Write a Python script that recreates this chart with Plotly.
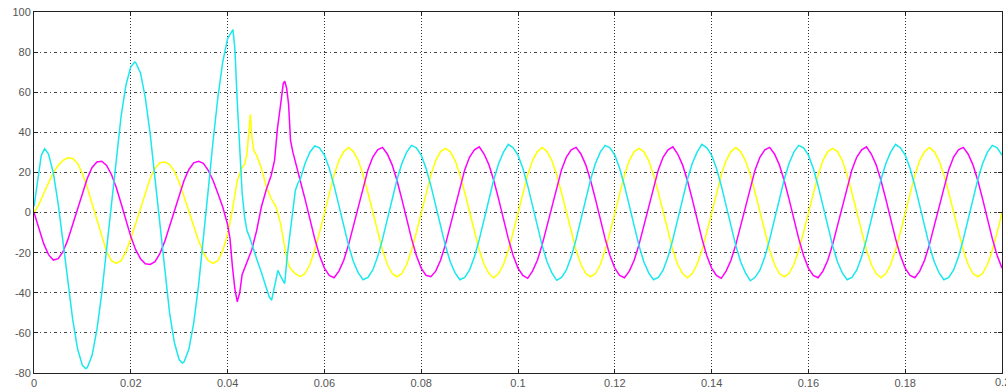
import plotly.graph_objects as go

# ---------------- data (time in ms, current in A) ----------------
# start-up transient
t_yellow_tr = [0, 1, 2, 3, 4, 5, 6, 7, 8, 9, 10, 11, 12, 13, 14, 15, 16, 17, 18, 19,
               20, 21, 22, 23, 24, 25, 26, 27, 28, 29, 30, 31, 32, 33, 34, 35, 36, 37, 38, 39,
               40, 41, 42, 43, 43.5, 44, 44.4, 44.7, 45, 45.4, 46, 47, 48, 49, 50, 51, 52, 52.5, 53, 54]
yellow_tr = [0, 4, 9.5, 15, 20, 23.5, 26, 27.3, 27, 24.5, 19.5, 12.5, 4.5, -4, -12.5, -19.5, -24, -25.4, -24, -19.5,
             -13, -5.5, 2.5, 10, 17, 22, 24.8, 25.2, 24, 20.5, 15, 8, 0.5, -7, -14, -20, -24, -25.4, -24, -19,
             -11, 1.5, 16, 22.5, 24, 29, 40, 49, 38, 31, 28.5, 22, 12.8, 7, 3, -6, -20, -25.4, -28, -30.5]

t_magenta_tr = [0, 1, 2, 3, 4, 5, 6, 7, 8, 9, 10, 11, 12, 13, 14, 15, 16, 17, 18, 19,
                20, 21, 22, 23, 24, 25, 26, 27, 28, 29, 30, 31, 32, 33, 34, 35, 36, 37, 38, 39,
                40, 40.5, 41, 41.5, 42, 42.5, 43, 44, 45, 46, 47, 48, 49, 49.7, 50.3, 50.8, 51.5, 51.8,
                52.2, 52.6, 53, 53.5, 54]
magenta_tr = [0, -8, -15.5, -21, -23.7, -23, -19.5, -13.5, -6, 2, 10, 17, 22.5, 25.2, 25.6, 23.5, 19, 12.5, 4.5, -4,
              -12, -18.5, -23, -25.5, -25.9, -24.5, -20.5, -14.5, -7, 1, 9, 16, 21.5, 24.8, 25.6, 24.5, 21, 16, 9.5, 2.8,
              -6, -13, -27, -38, -44.5, -40, -31, -25, -18.5, -9, 3, 11.5, 18.5, 26, 42, 51, 64.3, 65.5,
              62, 54, 36, 30, 25]

t_cyan_tr = [0, 0.5, 1, 1.5, 2.2, 3, 4, 5, 6, 7, 8, 9, 10, 10.65, 11, 12, 13, 14, 15, 16, 17, 18, 19,
             20, 20.8, 21, 22, 23, 24, 25, 26, 27, 28, 29, 30, 30.65, 31, 32, 33, 34, 35, 36, 37, 38, 39,
             40, 41.1, 41.5, 42, 42.5, 43, 43.5, 44, 44.5, 45, 46, 47, 48, 48.6, 49.1, 49.6, 50.1, 50.4,
             51, 51.8, 52.3, 53, 53.5, 54, 54.5]
cyan_tr = [3, 12, 22, 28.5, 31.9, 29.2, 19.7, 4.3, -14.7, -34.8, -53.4, -67.9, -76.2, -77.8, -77.4, -71.2, -58.4, -40.3, -18.4, 5.2, 28, 48.1, 63.6,
           72.7, 75.1, 74.8, 69.6, 57.3, 39.2, 17.1, -6.5, -29.7, -49.8, -64.8, -73.4, -75, -74.5, -68.2, -55.1, -36.3, -13.5, 11.3, 35.7, 57.6, 75.2,
           86.7, 91.2, 82, 55, 30, 10, -2, -9, -12, -16, -23, -30, -38, -42, -43.7, -38, -31, -28.8,
           -32, -35.4, -22, -8, 3, 11, 14.5]

# steady state, 55 ms .. 200 ms, one sample per ms
t_steady = list(range(55, 201))
yellow_steady = [-32, -30.4, -25.9, -18.8, -9.9,
                 0, 9.9, 18.8, 25.9, 30.4, 32.5, 30.4, 25.9, 18.8, 9.9, 0, -9.9, -18.8, -25.9, -30.4, -32, -30.4, -25.9, -18.8, -9.9,
                 0, 9.9, 18.8, 25.9, 30.4, 32, 30.4, 25.9, 18.8, 9.9, 0, -9.9, -18.8, -25.9, -30.4, -32.5, -30.4, -25.9, -18.8, -9.9,
                 0, 9.9, 18.8, 25.9, 30.4, 32.5, 30.4, 25.9, 18.8, 9.9, 0, -9.9, -18.8, -25.9, -30.4, -32, -30.4, -25.9, -18.8, -9.9,
                 0, 9.9, 18.8, 25.9, 30.4, 32, 30.4, 25.9, 18.8, 9.9, 0, -9.9, -18.8, -25.9, -30.4, -32.5, -30.4, -25.9, -18.8, -9.9,
                 0, 9.9, 18.8, 25.9, 30.4, 32.5, 30.4, 25.9, 18.8, 9.9, 0, -9.9, -18.8, -25.9, -30.4, -32, -30.4, -25.9, -18.8, -9.9,
                 0, 9.9, 18.8, 25.9, 30.4, 32, 30.4, 25.9, 18.8, 9.9, 0, -9.9, -18.8, -25.9, -30.4, -32.5, -30.4, -25.9, -18.8, -9.9,
                 0, 9.9, 18.8, 25.9, 30.4, 32.5, 30.4, 25.9, 18.8, 9.9, 0, -9.9, -18.8, -25.9, -30.4, -32, -30.4, -25.9, -18.8, -9.9,
                 0]
magenta_steady = [16, 6.7, -3.3, -13, -21.4,
                  -27.7, -31.3, -32.5, -29.2, -23.8, -16, -6.7, 3.3, 13, 21.4, 27.7, 31.3, 32.5, 29.2, 23.8, 16, 6.7, -3.3, -13, -21.4,
                  -27.7, -31.3, -32, -29.2, -23.8, -16, -6.7, 3.3, 13, 21.4, 27.7, 31.3, 32.8, 29.2, 23.8, 16, 6.7, -3.3, -13, -21.4,
                  -27.7, -31.3, -32.8, -29.2, -23.8, -16, -6.7, 3.3, 13, 21.4, 27.7, 31.3, 32.5, 29.2, 23.8, 16, 6.7, -3.3, -13, -21.4,
                  -27.7, -31.3, -32.5, -29.2, -23.8, -16, -6.7, 3.3, 13, 21.4, 27.7, 31.3, 32.8, 29.2, 23.8, 16, 6.7, -3.3, -13, -21.4,
                  -27.7, -31.3, -32.8, -29.2, -23.8, -16, -6.7, 3.3, 13, 21.4, 27.7, 31.3, 32.5, 29.2, 23.8, 16, 6.7, -3.3, -13, -21.4,
                  -27.7, -31.3, -32.5, -29.2, -23.8, -16, -6.7, 3.3, 13, 21.4, 27.7, 31.3, 32.8, 29.2, 23.8, 16, 6.7, -3.3, -13, -21.4,
                  -27.7, -31.3, -32.5, -29.2, -23.8, -16, -6.7, 3.3, 13, 21.4, 27.7, 31.3, 32.5, 29.2, 23.8, 16, 6.7, -3.3, -13, -21.4,
                  -27.7]
cyan_steady = [16.5, 24.5, 30.1, 33.2, 32.3,
               28.6, 22.1, 13.4, 3.4, -6.9, -16.5, -24.5, -30.1, -33.5, -32.3, -28.6, -22.1, -13.4, -3.4, 6.9, 16.5, 24.5, 30.1, 33.5, 32.3,
               28.6, 22.1, 13.4, 3.4, -6.9, -16.5, -24.5, -30.1, -33.5, -32.3, -28.6, -22.1, -13.4, -3.4, 6.9, 16.5, 24.5, 30.1, 34, 32.3,
               28.6, 22.1, 13.4, 3.4, -6.9, -16.5, -24.5, -30.1, -33.8, -32.3, -28.6, -22.1, -13.4, -3.4, 6.9, 16.5, 24.5, 30.1, 33.5, 32.3,
               28.6, 22.1, 13.4, 3.4, -6.9, -16.5, -24.5, -30.1, -33.5, -32.3, -28.6, -22.1, -13.4, -3.4, 6.9, 16.5, 24.5, 30.1, 34, 32.3,
               28.6, 22.1, 13.4, 3.4, -6.9, -16.5, -24.5, -30.1, -34, -32.3, -28.6, -22.1, -13.4, -3.4, 6.9, 16.5, 24.5, 30.1, 33.5, 32.3,
               28.6, 22.1, 13.4, 3.4, -6.9, -16.5, -24.5, -30.1, -33.5, -32.3, -28.6, -22.1, -13.4, -3.4, 6.9, 16.5, 24.5, 30.1, 34, 32.3,
               28.6, 22.1, 13.4, 3.4, -6.9, -16.5, -24.5, -30.1, -33.5, -32.3, -28.6, -22.1, -13.4, -3.4, 6.9, 16.5, 24.5, 30.1, 33.5, 32.3,
               28.6]

x_tick_vals = [0, 0.02, 0.04, 0.06, 0.08, 0.1, 0.12, 0.14, 0.16, 0.18]
x_tick_text = ["0", "0.02", "0.04", "0.06", "0.08", "0.1", "0.12", "0.14", "0.16", "0.18"]
x_last_tick = "0.2"
y_tick_vals = [-80, -60, -40, -20, 0, 20, 40, 60, 80, 100]
y_tick_text = ["-80", "-60", "-40", "-20", "0", "20", "40", "60", "80", "100"]

# ---------------- figure ----------------
def seconds(ms_list):
    return [v / 1000.0 for v in ms_list]

series = [
    ("Yellow", t_yellow_tr + t_steady, yellow_tr + yellow_steady, "#ffff00"),
    ("Magenta", t_magenta_tr + t_steady, magenta_tr + magenta_steady, "#ff00ff"),
    ("Cyan", t_cyan_tr + t_steady, cyan_tr + cyan_steady, "#1ae8ee"),
]

fig = go.Figure()
for name, t, y, col in series:
    fig.add_trace(go.Scatter(x=seconds(t), y=y, mode="lines", name=name,
                             line=dict(color=col, width=1.5), showlegend=False,
                             hoverinfo="skip"))

axis_font = dict(family="Liberation Sans, Arial, sans-serif", size=11, color="#555555")
fig.update_xaxes(range=[0, 0.2], tickvals=x_tick_vals + [0.2], ticktext=x_tick_text + [""],
                 showgrid=True, gridcolor="#333333", gridwidth=1, griddash="1px,2px",
                 showline=True, linecolor="#222222", linewidth=1, mirror="allticks",
                 ticks="inside", ticklen=4, tickcolor="#222222",
                 zeroline=False, tickfont=axis_font, automargin=False)
fig.update_yaxes(range=[-80, 100], tickvals=y_tick_vals, ticktext=y_tick_text,
                 showgrid=True, gridcolor="#444444", gridwidth=1, griddash="3px,3px,1px,3px",
                 showline=True, linecolor="#222222", linewidth=1, mirror="allticks",
                 ticks="inside", ticklen=4, tickcolor="#222222",
                 zeroline=False, tickfont=axis_font, automargin=False)
# last x tick label sits on the right edge of the page and is partly cut off there
fig.add_annotation(x=0.2, y=0, xref="x", yref="paper", yanchor="top", xanchor="center",
                   yshift=-1, text=x_last_tick, showarrow=False, font=axis_font)
fig.update_layout(width=1006, height=388, margin=dict(l=34, r=4, t=12, b=15, autoexpand=False),
                  paper_bgcolor="white", plot_bgcolor="white", hovermode=False)
fig.write_html("out.html", config={"displayModeBar": False, "staticPlot": True},
               post_script="document.body.style.margin='0px';document.body.style.overflow='hidden';")
